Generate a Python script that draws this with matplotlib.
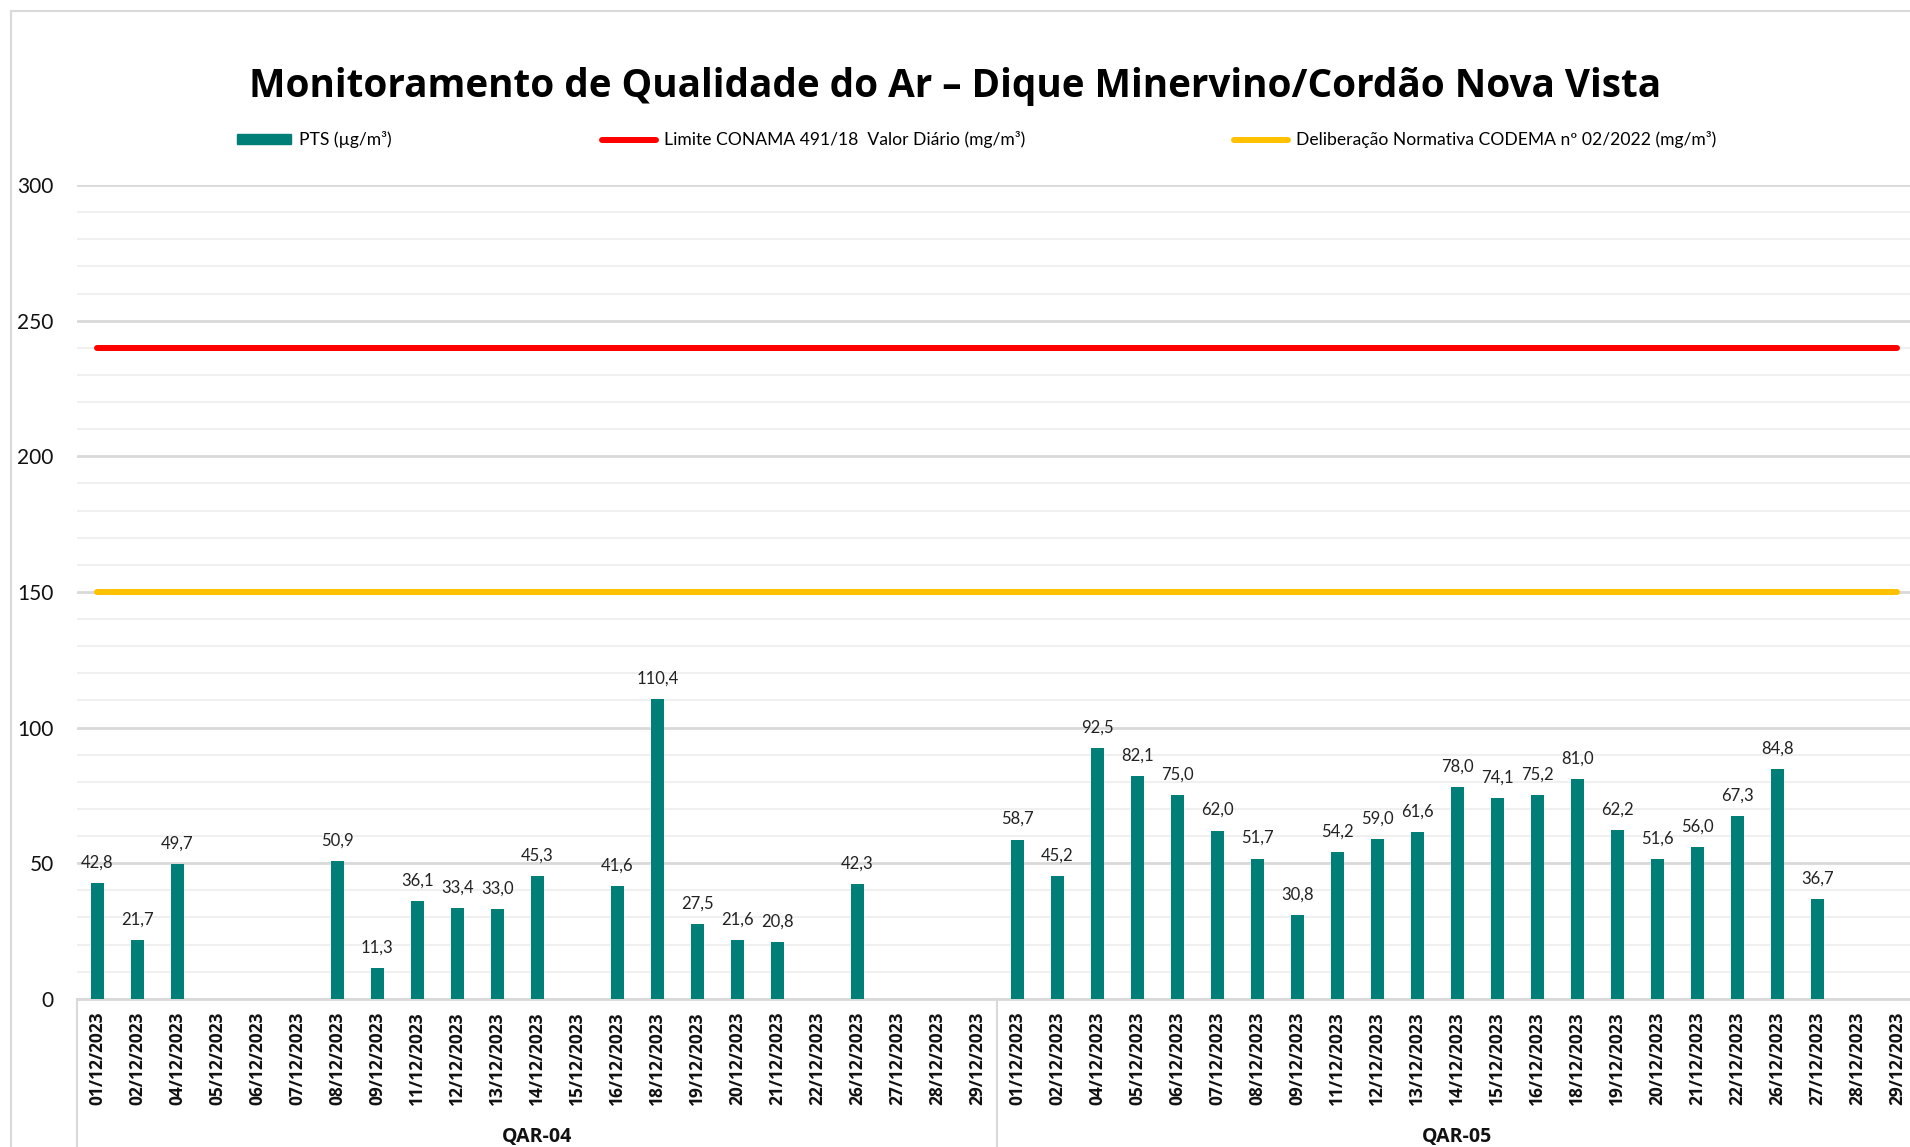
import matplotlib
matplotlib.use("Agg")
import matplotlib.pyplot as plt
from matplotlib.patches import Rectangle
from matplotlib.lines import Line2D
from matplotlib.ticker import MultipleLocator
import numpy as np

# ---------------- data ----------------
dates = ["01/12/2023", "02/12/2023", "04/12/2023", "05/12/2023", "06/12/2023",
         "07/12/2023", "08/12/2023", "09/12/2023", "11/12/2023", "12/12/2023",
         "13/12/2023", "14/12/2023", "15/12/2023", "16/12/2023", "18/12/2023",
         "19/12/2023", "20/12/2023", "21/12/2023", "22/12/2023", "26/12/2023",
         "27/12/2023", "28/12/2023", "29/12/2023"]
groups = ["QAR-04", "QAR-05"]
pts_qar04 = [42.8, 21.7, 49.7, None, None, None, 50.9, 11.3, 36.1, 33.4,
             33.0, 45.3, None, 41.6, 110.4, 27.5, 21.6, 20.8, None, 42.3,
             None, None, None]
pts_qar05 = [58.7, 45.2, 92.5, 82.1, 75.0, 62.0, 51.7, 30.8, 54.2, 59.0,
             61.6, 78.0, 74.1, 75.2, 81.0, 62.2, 51.6, 56.0, 67.3, 84.8,
             36.7, None, None]
limite_conama = 240
codema = 150
legend_labels = ["PTS (µg/m³)", "Limite CONAMA 491/18  Valor Diário (mg/m³)",
                 "Deliberação Normativa CODEMA nº 02/2022 (mg/m³)"]
title = "Monitoramento de Qualidade do Ar – Dique Minervino/Cordão Nova Vista"

# ---------------- styling ----------------
TEAL = "#007F79"
RED = "#FF0000"
YELLOW = "#FFC000"
W, H = 1910, 1147
REG = ["Lato", "DejaVu Sans"]
BOLD = ["Open Sans", "DejaVu Sans"]

fig = plt.figure(figsize=(W / 100, H / 100), dpi=100)
fig.patch.set_facecolor("white")

# outer chart border
fig.add_artist(Rectangle((11 / W, -0.1), 1.2, 1 - 11 / H + 0.1, transform=fig.transFigure,
                         fill=False, edgecolor="#D9D9D9", linewidth=1.5))

left_px, right_px, top_px, bot_px = 77.3, 77.3 + 46 * 40, 185, 998.8
ax = fig.add_axes([left_px / W, 1 - bot_px / H, (right_px - left_px) / W, (bot_px - top_px) / H])

all_vals = pts_qar04 + pts_qar05
labels = dates + dates
n = len(all_vals)
x = np.arange(n)
heights = [v if v is not None else 0 for v in all_vals]
present = [v is not None for v in all_vals]

bars = ax.bar(x[present], np.array(heights)[present], width=0.32, color=TEAL, zorder=3)
for xi, v in zip(x[present], np.array(heights)[present]):
    ax.annotate(f"{v:.1f}".replace(".", ","), (xi, v), xytext=(0, 9), textcoords="offset points",
                ha="center", va="bottom", fontsize=12, family=REG, color="#222222", zorder=4)

ax.plot([x[0], x[-1]], [limite_conama, limite_conama], color=RED, lw=4.3,
        solid_capstyle="round", zorder=3)
ax.plot([x[0], x[-1]], [codema, codema], color=YELLOW, lw=4.3,
        solid_capstyle="round", zorder=3)

ax.set_xlim(-0.5, n - 0.5)
ax.set_ylim(0, 300)
ax.yaxis.set_major_locator(MultipleLocator(50))
ax.yaxis.set_minor_locator(MultipleLocator(10))
ax.grid(which="minor", axis="y", color="#F0F0F0", lw=1.5, zorder=0)
ax.grid(which="major", axis="y", color="#D9D9D9", lw=2, zorder=1)
for s in ["top", "right", "left"]:
    ax.spines[s].set_visible(False)
ax.spines["bottom"].set_color("#D9D9D9")
ax.spines["bottom"].set_linewidth(2)
ax.tick_params(axis="y", which="both", length=0, pad=17)
for t in ax.get_yticklabels():
    t.set_family(REG)
    t.set_fontsize(15)
    t.set_color("#111111")
ax.set_xticks(x)
ax.set_xticklabels(labels, rotation=90, fontsize=12.5, family=BOLD, fontweight="bold",
                   color="#111111")
ax.tick_params(axis="x", length=0, pad=9)

# group separators and labels
trans = ax.get_xaxis_transform()
ylow = -(H - bot_px + 5) / (bot_px - top_px)
for b in [-0.5, len(dates) - 0.5, n - 0.5]:
    ax.plot([b, b], [0, ylow], transform=trans, color="#D9D9D9", lw=1.5, clip_on=False)
for gi, g in enumerate(groups):
    cx = gi * len(dates) + (len(dates) - 1) / 2
    ax.text(cx, -(1137 - bot_px) / (bot_px - top_px), g, transform=trans, ha="center",
            va="center", fontsize=14, family=BOLD, fontweight="bold", color="#111111")

# title
fig.text(0.5, 1 - 87 / H, title, ha="center", va="center", fontsize=27.8,
         family=BOLD, fontweight="bold", color="black")

# legend: three entries
handles = [Rectangle((0, 0), 1, 1, color=TEAL),
           Line2D([], [], color=RED, lw=4.3, solid_capstyle="round"),
           Line2D([], [], color=YELLOW, lw=4.3, solid_capstyle="round")]
starts = [237, 602, 1234]
for h, lab, sx in zip(handles, legend_labels, starts):
    fig.legend([h], [lab], loc="center left", bbox_to_anchor=(sx / W, 1 - 140 / H),
               frameon=False, borderpad=0, borderaxespad=0, handlelength=3.1,
               handleheight=0.5, handletextpad=0.45, prop={"family": REG, "size": 12.6})

fig.savefig("out.png", dpi=100, facecolor="white")
